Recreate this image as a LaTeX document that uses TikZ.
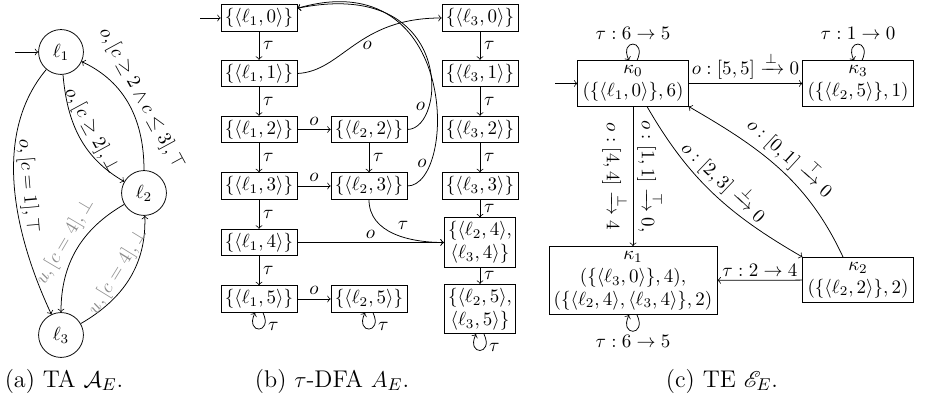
\documentclass[tikz,border=0pt]{standalone}
\usepackage{amsmath,amssymb,mathrsfs}
\usetikzlibrary{calc}
\begin{document}
\begin{tikzpicture}[x=0.526pt,y=0.526pt,
  st/.style={draw,circle,minimum size=23.6pt,inner sep=0pt},
  bx/.style={draw,inner sep=2pt,align=center},
  kb/.style={draw,inner sep=2.5pt,align=center},
  lab/.style={inner sep=2pt},
  glab/.style={inner sep=2pt,text=black!45},
  captxt/.style={font=\fontsize{12.7}{15}\selectfont}]
\useasboundingbox (0,0) rectangle (925,405);

% (a)
\node[st] (L1) at (61,353) {$\ell_1$};
\node[st] (L2) at (144,212) {$\ell_2$};
\node[st] (L3) at (61,70) {$\ell_3$};
\coordinate (a0) at (15,353);
\draw[->] (a0) -- (L1);
\draw[->] (L1) to[out=-130,in=115,looseness=0.9] node[lab,sloped,above]{$o,[c=1],\top$} (L3);
\draw[->] (L1) to[out=-85,in=150] node[lab,sloped,above]{$o,[c\geq 2],\bot$} (L2);
\draw[->] (L2) to[out=90,in=-25] node[lab,sloped,above]{$o,[c\geq 2\wedge c\leq 3],\top$} (L1);
\draw[->] (L2) to[out=-150,in=90] node[glab,sloped,above]{$u,[c=4],\bot$} (L3);
\draw[->] (L3) to[out=30,in=-88] node[glab,sloped,above]{$u,[c=4],\bot$} (L2);
\node[captxt] (ca) at (64,24) {(a) TA $\mathcal{A}_E$.};

% (b)
\node[bx] (b10) at (259,387) {$\{\langle\ell_1,0\rangle\}$};
\node[bx] (b11) at (259,331.5) {$\{\langle\ell_1,1\rangle\}$};
\node[bx] (b12) at (259,275.5) {$\{\langle\ell_1,2\rangle\}$};
\node[bx] (b13) at (259,219) {$\{\langle\ell_1,3\rangle\}$};
\node[bx] (b14) at (259,162.5) {$\{\langle\ell_1,4\rangle\}$};
\node[bx] (b15) at (259,106) {$\{\langle\ell_1,5\rangle\}$};
\node[bx] (b22) at (369,275.5) {$\{\langle\ell_2,2\rangle\}$};
\node[bx] (b23) at (369,219) {$\{\langle\ell_2,3\rangle\}$};
\node[bx] (b25) at (369,106) {$\{\langle\ell_2,5\rangle\}$};
\node[bx] (b30) at (480,387) {$\{\langle\ell_3,0\rangle\}$};
\node[bx] (b31) at (480,331.5) {$\{\langle\ell_3,1\rangle\}$};
\node[bx] (b32) at (480,275.5) {$\{\langle\ell_3,2\rangle\}$};
\node[bx] (b33) at (480,219) {$\{\langle\ell_3,3\rangle\}$};
\node[bx] (b34) at (480,162.5) {$\{\langle\ell_2,4\rangle,$\\$\langle\ell_3,4\rangle\}$};
\node[bx] (b35) at (480,96) {$\{\langle\ell_2,5\rangle,$\\$\langle\ell_3,5\rangle\}$};
\coordinate (b0) at (200,387);
\draw[->] (b0) -- (b10);
\foreach \s/\t in {b10/b11,b11/b12,b12/b13,b13/b14,b14/b15,b22/b23,b30/b31,b31/b32,b32/b33,b33/b34,b34/b35}
  \draw[->] (\s) -- node[lab,right]{$\tau$} (\t);
\foreach \s/\t in {b12/b22,b13/b23,b15/b25,b14/b34}
  \draw[->] (\s) -- node[lab,above]{$o$} (\t);
\draw[->] (b11.east) .. controls +(45,2) and +(-85,0) .. node[lab,pos=0.6,below]{$o$} (b30.west);
\draw[->] (b22.east) .. controls +(40,0) and +(158,32) .. node[lab,pos=0.25,left]{$o$} ($(b10.north east)+(0,-4)$);
\draw[->] (b23.east) .. controls +(50,0) and +(163,47) .. node[lab,pos=0.2,left]{$o$} ($(b10.north east)+(0,-4)$);
\draw[->] (b23.south) to[out=-90,in=180] node[lab,pos=0.5,above right]{$\tau$} (b34.west);
\foreach \n in {b15,b25,b35}
  \draw[->] ($(\n.south)+(4,0)$) .. controls +(-65:24) and +(-115:24) .. node[lab,pos=0.3,right]{$\tau$} ($(\n.south)+(-4,0)$);
\node[captxt] (cb) at (332,24) {(b) $\tau$-DFA $A_E$.};

% (c)
\node[kb] (K0) at (633,321.5) {$\kappa_0$\\$(\{\langle\ell_1,0\rangle\},6)$};
\node[kb] (K3) at (858,321.5) {$\kappa_3$\\$(\{\langle\ell_2,5\rangle\},1)$};
\node[kb] (K1) at (633,124.5) {$\kappa_1$\\$(\{\langle\ell_3,0\rangle\},4),$\\$(\{\langle\ell_2,4\rangle,\langle\ell_3,4\rangle\},2)$};
\node[kb] (K2) at (858,125) {$\kappa_2$\\$(\{\langle\ell_2,2\rangle\},2)$};
\coordinate (c0) at (555,321.5);
\draw[->] (c0) -- (K0);
\draw[->] (K0) -- node[lab,above]{$o:[5,5]\xrightarrow{\bot}0$} (K3);
\draw[->] (K0) -- node[lab,sloped,above]{$o:[1,1]\xrightarrow{\top}0,$} node[lab,sloped,below]{$o:[4,4]\xrightarrow{\bot}4$} (K1);
\draw[->] ($(K0.south)+(14,0)$) to[out=-60,in=150] node[lab,sloped,above]{$o:[2,3]\xrightarrow{\bot}0$} (K2.north west);
\draw[->] ($(K2.north)+(-15,0)$) to[out=115,in=-30] node[lab,sloped,above]{$o:[0,1]\xrightarrow{\top}0$} (K0.south east);
\draw[->] (K2) -- node[lab,above]{$\tau:2\to 4$} (K1);
\draw[->] ($(K0.north)+(4,0)$) .. controls +(65:24) and +(115:24) .. node[lab,pos=0.5,above]{$\tau:6\to 5$} ($(K0.north)+(-4,0)$);
\draw[->] ($(K3.north)+(4,0)$) .. controls +(65:24) and +(115:24) .. node[lab,pos=0.5,above]{$\tau:1\to 0$} ($(K3.north)+(-4,0)$);
\draw[->] ($(K1.south)+(4,0)$) .. controls +(-65:24) and +(-115:24) .. node[lab,pos=0.5,below]{$\tau:6\to 5$} ($(K1.south)+(-4,0)$);
\node[captxt] (cc) at (722,24) {(c) TE $\mathscr{E}_E$.};
\end{tikzpicture}
\end{document}
